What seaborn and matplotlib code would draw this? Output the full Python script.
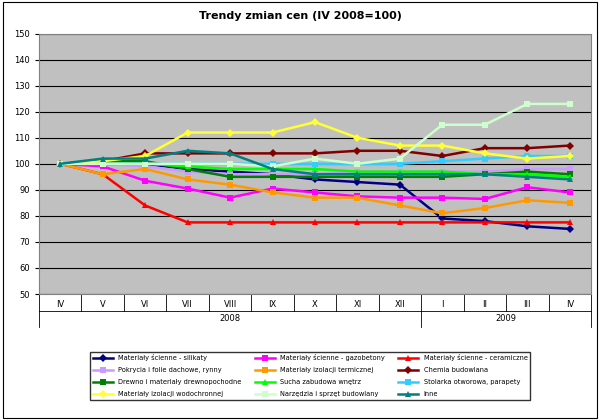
import numpy as np
import pandas as pd
import matplotlib
matplotlib.use("Agg")
import matplotlib.pyplot as plt
import seaborn as sns

months = ["IV", "V", "VI", "VII", "VIII", "IX", "X", "XI", "XII", "I", "II", "III", "IV"]

silikaty = [100, 100, 100, 98, 97, 96, 94, 93, 92, 79, 78, 76, 75]
gazobetony = [100, 99, 93.5, 90.5, 87, 90.5, 89, 87.5, 87, 87, 86.5, 91, 89]
ceramiczne = [100, 96, 84, 77.5, 77.5, 77.5, 77.5, 77.5, 77.5, 77.5, 77.5, 77.5, 77.5]
pokrycia = [100, 100, 99, 97, 96, 96, 96, 97, 97, 97, 97, 98, 98]
termiczne = [100, 96, 98, 94, 92, 89, 87, 87, 84, 81, 83, 86, 85]
chemia = [100, 101, 104, 104, 104, 104, 104, 105, 105, 103, 106, 106, 107]
drewno = [100, 101, 101, 98, 95, 95, 95, 95, 95, 95, 96, 97, 96]
sucha = [100, 100, 100, 99, 98, 98, 98, 97, 97, 97, 96, 96, 95]
stolarka = [100, 100, 100, 100, 100, 100, 100, 100, 100, 101, 102, 103, 103]
wodochronne = [100, 101, 103, 112, 112, 112, 116, 110, 107, 107, 104, 102, 103]
narzedzia = [100, 100, 100, 100, 100, 99, 102, 100, 102, 115, 115, 123, 123]
inne = [100, 102, 102, 105, 104, 98, 96, 96, 96, 96, 96, 95, 94]

series = [
    ("Materiały ścienne - silikaty", silikaty, "#000080", "D"),
    ("Materiały ścienne - gazobetony", gazobetony, "#FF00FF", "s"),
    ("Materiały ścienne - ceramiczne", ceramiczne, "#FF0000", "^"),
    ("Pokrycia i folie dachowe, rynny", pokrycia, "#CC99FF", "s"),
    ("Materiały izolacji termicznej", termiczne, "#FF9900", "s"),
    ("Chemia budowlana", chemia, "#800000", "D"),
    ("Drewno i materiały drewnopochodne", drewno, "#008000", "s"),
    ("Sucha zabudowa wnętrz", sucha, "#00FF00", "^"),
    ("Stolarka otworowa, parapety", stolarka, "#33CCFF", "s"),
    ("Materiały izolacji wodochronnej", wodochronne, "#FFFF33", "D"),
    ("Narzędzia i sprzęt budowlany", narzedzia, "#CCFFCC", "s"),
    ("Inne", inne, "#008080", "^"),
]

rows = []
for name, vals, _, _ in series:
    for i, v in enumerate(vals):
        rows.append({"x": i, "val": v, "series": name})
df = pd.DataFrame(rows)

fig = plt.figure(figsize=(6, 4.2), dpi=100)
ax = fig.add_axes([0.065, 0.30, 0.92, 0.62])
ax.set_facecolor("#C0C0C0")

palette = {n: c for n, _, c, _ in series}
markers = {n: m for n, _, _, m in series}
sns.lineplot(data=df, x="x", y="val", hue="series", style="series",
             palette=palette, markers=markers, dashes=False,
             linewidth=1.8, markersize=4, markeredgewidth=0, ax=ax, legend=True)

ax.set_ylim(50, 150)
ax.set_yticks(range(50, 151, 10))
ax.grid(axis="y", color="black", linewidth=0.8)
ax.set_axisbelow(True)
ax.set_xlim(-0.5, 12.5)
ax.set_xticks(range(13))
ax.set_xticklabels(months, fontsize=6)
ax.tick_params(axis="y", labelsize=6, length=3)
ax.tick_params(axis="x", length=0, pad=4)
tr = ax.get_xaxis_transform()
for i in range(14):
    ax.plot([i - 0.5, i - 0.5], [0, -0.065], color="black", lw=0.6,
            transform=tr, clip_on=False)
for xv in [-0.5, 8.5, 12.5]:
    ax.plot([xv, xv], [-0.065, -0.125], color="black", lw=0.6,
            transform=tr, clip_on=False)
ax.plot([-0.5, 12.5], [-0.065, -0.065], color="black", lw=0.6,
        transform=tr, clip_on=False)
ax.text(4, -0.095, "2008", fontsize=6, ha="center", va="center", transform=tr)
ax.text(10.5, -0.095, "2009", fontsize=6, ha="center", va="center", transform=tr)
ax.set_xlabel("")
ax.set_ylabel("")
for s in ax.spines.values():
    s.set_color("#808080")

handles, labels = ax.get_legend_handles_labels()
ax.get_legend().remove()
# matplotlib fills legend columns first; reorder so rows read like the reference
order = [r * 3 + c for c in range(3) for r in range(4)]
fig.legend([handles[i] for i in order], [labels[i] for i in order],
           loc="lower left", bbox_to_anchor=(0.145, 0.04),
           ncol=3, fontsize=4.8, frameon=True, edgecolor="black", fancybox=False,
           handlelength=3, columnspacing=2.0, labelspacing=0.9)

fig.text(0.5, 0.955, "Trendy zmian cen (IV 2008=100)", ha="center",
         fontsize=8, fontweight="bold")
fig.patches.append(plt.Rectangle((0.005, 0.005), 0.99, 0.99, fill=False,
                                 edgecolor="black", lw=0.8, transform=fig.transFigure))
fig.savefig("out.png", dpi=100)
